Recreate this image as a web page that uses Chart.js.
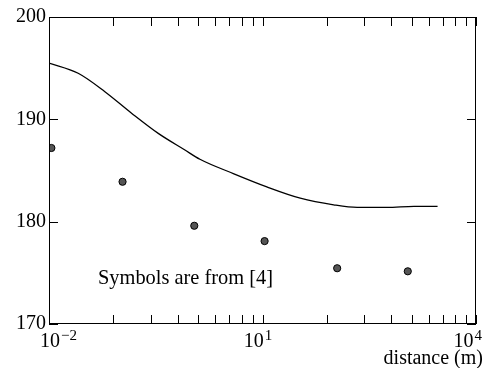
<!DOCTYPE html>
<html>
<head>
<meta charset="utf-8">
<script src="https://cdn.jsdelivr.net/npm/chart.js@4.4.0/dist/chart.umd.min.js"></script>
<style>
  html, body { margin: 0; padding: 0; background: #fff; }
  #wrap { width: 485px; height: 368px; }
</style>
</head>
<body>
<div id="wrap"><canvas id="grafico"></canvas></div>
<script>
// curva calculada (linha)
const curveX = [0.01, 0.0257, 0.061, 0.1445, 0.347, 0.813, 1.32, 3.89, 11.5, 33.9, 100, 214, 562, 1349, 2884];
const curveY = [195.5, 194.5, 192.7, 190.6, 188.6, 187.0, 186.1, 184.7, 183.4, 182.3, 181.65, 181.4, 181.4, 181.5, 181.5];
// simbolos (medidas de [4])
const symX = [0.0108, 0.108, 1.1, 10.7, 112, 1100];
const symY = [187.2, 183.9, 179.6, 178.1, 175.45, 175.15];
// eixos
const yTicks = [170, 180, 190, 200];
const xMajor = [0.01, 10, 10000];
const xLabels = [['10', '\u22122'], ['10', '1'], ['10', '4']];
const xMinorSteps = [2, 3, 4, 5, 6, 7, 8, 9];
const xTitle = 'distance (m)';
const note = 'Symbols are from [4]';

const FONT = '"Liberation Serif"';

const moldura = {
    id: 'moldura',
    afterDraw(chart) {
        const { ctx, chartArea: a, scales: { x, y } } = chart;
        ctx.save();
        ctx.strokeStyle = '#000';
        ctx.lineWidth = 1;
        ctx.strokeRect(a.left + 0.5, a.top + 0.5, a.right - a.left - 1, a.bottom - a.top - 1);

        // marcas do eixo x (para dentro, em baixo e em cima)
        const xs = [];
        for (let i = 0; i < xMajor.length; i++) {
            xs.push(xMajor[i]);
            if (i < xMajor.length - 1) {
                xMinorSteps.forEach(k => xs.push(xMajor[i] * Math.pow(k, 3)));
            }
        }
        ctx.beginPath();
        xs.forEach(v => {
            const px = Math.round(x.getPixelForValue(v)) + 0.5;
            ctx.moveTo(px, a.bottom);
            ctx.lineTo(px, a.bottom - 9);
            ctx.moveTo(px, a.top);
            ctx.lineTo(px, a.top + 9);
        });
        // marcas do eixo y
        yTicks.forEach(v => {
            const py = Math.round(y.getPixelForValue(v)) + 0.5;
            ctx.moveTo(a.left, py);
            ctx.lineTo(a.left + 9, py);
            ctx.moveTo(a.right, py);
            ctx.lineTo(a.right - 9, py);
        });
        ctx.stroke();

        // rótulos do eixo x: 10 com expoente
        ctx.fillStyle = '#000';
        ctx.textBaseline = 'alphabetic';
        ctx.textAlign = 'left';
        xMajor.forEach((v, i) => {
            const [base, exp] = xLabels[i];
            ctx.font = '20px ' + FONT;
            const wb = ctx.measureText(base).width;
            ctx.font = '15px ' + FONT;
            const we = ctx.measureText(exp).width;
            const w = wb + we;
            let x0 = x.getPixelForValue(v) - w / 2 - 5;
            x0 = Math.max(40, Math.min(x0, 481 - w));
            ctx.font = '20px ' + FONT;
            ctx.fillText(base, x0, 347);
            ctx.font = '15px ' + FONT;
            ctx.fillText(exp, x0 + wb + 1, 340);
        });

        ctx.font = '20px ' + FONT;
        ctx.textAlign = 'right';
        ctx.fillText(xTitle, 483, 364);

        ctx.textAlign = 'left';
        ctx.font = '20.4px ' + FONT;
        ctx.fillText(note, 98, 284);
        ctx.restore();
    }
};

function desenha() {
    const el = document.getElementById('grafico');
    new Chart(el, {
        type: 'scatter',
        data: {
            datasets: [
                {
                    type: 'line',
                    data: curveX.map((v, i) => ({ x: v, y: curveY[i] })),
                    borderColor: '#000',
                    borderWidth: 1.3,
                    pointRadius: 0,
                    fill: false,
                    tension: 0.4,
                    cubicInterpolationMode: 'monotone'
                },
                {
                    data: symX.map((v, i) => ({ x: v, y: symY[i] })),
                    pointStyle: 'circle',
                    pointRadius: 3.6,
                    backgroundColor: '#555',
                    borderColor: '#000',
                    borderWidth: 1
                }
            ]
        },
        options: {
            responsive: true,
            maintainAspectRatio: false,
            devicePixelRatio: 1,
            animation: false,
            layout: { padding: { left: 0, right: 9, top: 17, bottom: 0 } },
            plugins: { legend: { display: false }, tooltip: { enabled: false } },
            scales: {
                x: {
                    type: 'logarithmic',
                    min: 0.01,
                    max: 10000,
                    grid: { display: false, drawTicks: false },
                    border: { display: false },
                    ticks: { display: false },
                    afterFit: s => { s.height = 44; }
                },
                y: {
                    min: 170,
                    max: 200,
                    grid: { display: false, drawTicks: false },
                    border: { display: false },
                    ticks: {
                        stepSize: 10,
                        color: '#000',
                        padding: 3,
                        font: { family: FONT, size: 20 }
                    },
                    afterFit: s => { s.width = 49; }
                }
            }
        },
        plugins: [moldura]
    });
}

document.addEventListener('DOMContentLoaded', function() {
    Promise.all([
        document.fonts.load('20px "Liberation Serif"'),
        document.fonts.load('15px "Liberation Serif"')
    ]).then(desenha).catch(desenha);
});
</script>
</body>
</html>
